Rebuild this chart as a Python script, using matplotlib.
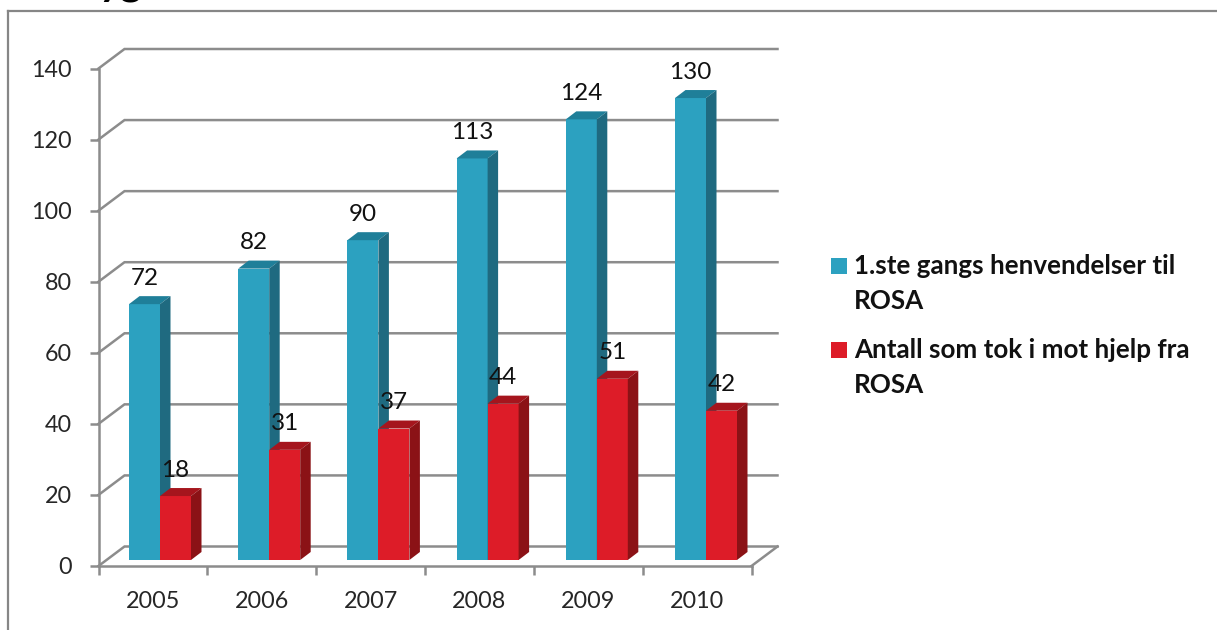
import numpy as np
import matplotlib
matplotlib.use('Agg')
import matplotlib.pyplot as plt
from matplotlib.lines import Line2D
from matplotlib.patches import Polygon, Rectangle

plt.rcParams['font.family'] = ['Lato', 'DejaVu Sans']

# --- data ---
years = ['2005', '2006', '2007', '2008', '2009', '2010']
first_contact = [72, 82, 90, 113, 124, 130]
accepted_help = [18, 31, 37, 44, 51, 42]
series_names = ['1.ste gangs henvendelser til\nROSA', 'Antall som tok i mot hjelp fra\nROSA']
y_ticks = [0, 20, 40, 60, 80, 100, 120, 140]

# --- colours ---
GREY = '#8c8c8c'
BLUE = ('#2ca1c0', '#1f7f99', '#1f6a80')   # front, top, side
RED = ('#dd1c28', '#a5151d', '#8b1216')

W, H = 1217, 630
fig = plt.figure(figsize=(W / 100, H / 100), dpi=100, facecolor='white')

# plot area in pixels: x 98.5..751.5, y 566..68.5
ax = fig.add_axes([98.5 / W, 1 - 566 / H, 653 / W, 497.5 / H])
ax.set_xlim(0, 6)
ax.set_ylim(0, 140)
ax.patch.set_visible(False)

# pixel -> data unit helpers
px_x = 6 / 653
px_y = 140 / 497.5

# pseudo-3D depth of the wall and of the bars
wall_dx, wall_dy = 26 * px_x, 19.5 * px_y
bar_base = 6 * px_y
bar_dx, bar_dy = 10.5 * px_x, 8 * px_y
bar_w = 31 * px_x
bar_start = 30.5 * px_x
bar_step = 109.2 * px_x

# gridlines on the back wall
for v in y_ticks:
    ax.plot([0, wall_dx, 6 + wall_dx], [v, v + wall_dy, v + wall_dy],
            color=GREY, lw=1.8, clip_on=False, zorder=1, solid_joinstyle='miter')
ax.plot([6, 6 + wall_dx], [0, wall_dy], color=GREY, lw=1.8, clip_on=False, zorder=1)


def draw_bar(left, val, cols, z):
    top = bar_base + val
    ax.bar(left, val, width=bar_w, bottom=bar_base, align='edge', color=cols[0],
           clip_on=False, zorder=z, linewidth=0)
    r = left + bar_w
    ax.add_patch(Polygon([(left, top), (r, top), (r + bar_dx, top + bar_dy), (left + bar_dx, top + bar_dy)],
                         closed=True, fc=cols[1], ec='none', clip_on=False, zorder=z))
    ax.add_patch(Polygon([(r, bar_base), (r + bar_dx, bar_base + bar_dy), (r + bar_dx, top + bar_dy), (r, top)],
                         closed=True, fc=cols[2], ec='none', clip_on=False, zorder=z))


for i in range(len(years)):
    z = 3 + i
    left = i * bar_step + bar_start
    draw_bar(left, first_contact[i], BLUE, z)
    draw_bar(left + bar_w, accepted_help[i], RED, z + 0.5)
    ax.annotate(str(first_contact[i]), (left + bar_w / 2, first_contact[i] + bar_base), xytext=(0, 26 / 1.389),
                textcoords='offset points', ha='center', va='center', fontsize=17.5, color='#111111', zorder=20)
    ax.annotate(str(accepted_help[i]), (left + bar_w * 1.5, accepted_help[i] + bar_base), xytext=(0, 26 / 1.389),
                textcoords='offset points', ha='center', va='center', fontsize=17.5, color='#111111', zorder=20)

# axes
for s in ['top', 'right']:
    ax.spines[s].set_visible(False)
for s in ['left', 'bottom']:
    ax.spines[s].set_color(GREY)
    ax.spines[s].set_linewidth(1.8)
    ax.spines[s].set_zorder(2)
ax.set_yticks(y_ticks)
ax.set_yticklabels([str(v) for v in y_ticks])
ax.tick_params(axis='y', length=6.5, width=1.8, color=GREY, pad=12.5, labelsize=16.8, labelcolor='#262626')
ax.set_xticks(range(7))
ax.set_xticklabels([])
ax.set_xticks(np.arange(len(years)) + 0.5, minor=True)
ax.set_xticklabels(years, minor=True)
ax.tick_params(axis='x', which='major', length=6.5, width=1.8, color=GREY)
ax.tick_params(axis='x', which='minor', length=0, pad=18, labelsize=16.8, labelcolor='#262626')

# legend, first line of each entry sits next to its swatch
legend_tops = [265.5, 349.5]
for name, cols, yc in zip(series_names, [BLUE, RED], legend_tops):
    fig.add_artist(Rectangle((831 / W, 1 - (yc + 8) / H), 16 / W, 16 / H, fc=cols[0], ec='none',
                             transform=fig.transFigure))
    fig.text(854 / W, 1 - (yc - 11) / H, name, fontsize=18.7, fontweight='bold', color='#111111',
             ha='left', va='top', linespacing=1.52)

# outer chart border
fig.add_artist(Line2D([8 / W, 8 / W], [0, 1 - 11 / H], color='#868686', lw=1.6))
fig.add_artist(Line2D([8 / W, 1], [1 - 11 / H, 1 - 11 / H], color='#868686', lw=1.6))

# bottom of the slide title, cut off by the top edge
fig.text(99 / W, 1 + 5 / H, 'yg', fontsize=30, fontweight='bold', color='black', ha='left', va='baseline')

fig.savefig('out.png', dpi=100, facecolor='white')
